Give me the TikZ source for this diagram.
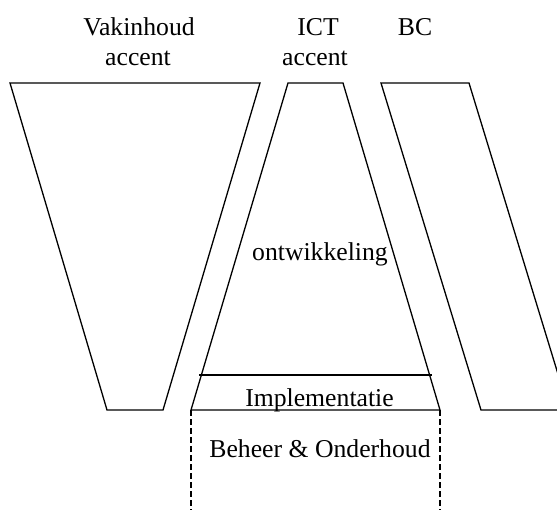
\documentclass[tikz,border=0pt]{standalone}
\usepackage{fontspec}
\setmainfont{Liberation Serif}
\begin{document}
\begin{tikzpicture}[x=1pt,y=-1pt,
  shape line/.style={draw=black,line width=1.3pt,line join=miter},
  phase line/.style={draw=black,line width=1.2pt,dash pattern=on 6pt off 3pt},
  label text/.style={inner sep=0pt,anchor=base,font=\fontsize{25.7}{30}\selectfont}]
\useasboundingbox (0,0) rectangle (557,509);
\begin{scope}
\clip (0,0) rectangle (557,509);
% vakinhoud funnel
\draw[shape line] (10,83) -- (260,83) -- (163,410) -- (107,410) -- cycle;
% ICT funnel with implementation band
\coordinate (ictTL) at (288,83);
\coordinate (ictTR) at (343,83);
\coordinate (ictBL) at (191,410);
\coordinate (ictBR) at (440,410);
\draw[shape line] (ictTL) -- (ictTR) -- (ictBR) -- (ictBL) -- cycle;
\draw[shape line] (199,375) -- (432,375);
% BC band
\draw[shape line] (381,83) -- (469,83) -- (569,410) -- (481,410) -- cycle;
% maintenance phase
\coordinate (endL) at (191,512);
\coordinate (endR) at (440,512);
\draw[phase line] (ictBL) -- (endL);
\draw[phase line] (ictBR) -- (endR);
\end{scope}
% labels
\node[label text] (vak1) at (139,35) {Vakinhoud};
\node[label text] (vak2) at (138,65) {accent};
\node[label text] (ict1) at (318,35) {ICT};
\node[label text] (ict2) at (315,65) {accent};
\node[label text] (bc) at (415,35) {BC};
\node[label text] (ontw) at (320,260) {ontwikkeling};
\node[label text] (impl) at (319.5,406) {Implementatie};
\node[label text] (beheer) at (320,457) {Beheer \& Onderhoud};
\end{tikzpicture}
\end{document}
